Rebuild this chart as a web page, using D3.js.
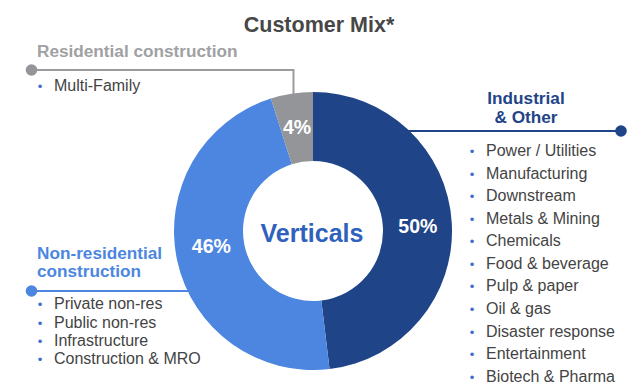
<!DOCTYPE html>
<html>
<head>
<meta charset="utf-8">
<script src="https://cdn.jsdelivr.net/npm/d3@7"></script>
<style>
  html, body { margin: 0; padding: 0; background: #fff; }
  svg { display: block; font-family: "Liberation Sans", Arial, Helvetica, sans-serif; }
</style>
</head>
<body>
<svg id="chart" width="640" height="392"></svg>
<script>
// ---- data ----
const segments = ["Industrial & Other", "Non-residential construction", "Residential construction"];
const segmentValues = [48.1, 47.0, 4.9];          // slice sizes as drawn
const segmentLabels = ["50%", "46%", "4%"];        // printed labels
const segmentColors = ["#1F4487", "#4C86E0", "#939598"];

const industrialItems = ["Power / Utilities", "Manufacturing", "Downstream", "Metals & Mining",
  "Chemicals", "Food & beverage", "Pulp & paper", "Oil & gas", "Disaster response",
  "Entertainment", "Biotech & Pharma"];
const nonResItems = ["Private non-res", "Public non-res", "Infrastructure", "Construction & MRO"];
const resItems = ["Multi-Family"];

// ---- layout ----
const svg = d3.select("#chart");
const cx = 313, cy = 231, R = 139, r = 70;
const textColor = "#444444";
const bulletColor = "#3D6FC9";

svg.append("text")
  .attr("x", 319).attr("y", 32)
  .attr("text-anchor", "middle")
  .attr("font-size", 21.5).attr("font-weight", "bold")
  .attr("fill", "#474747")
  .text("Customer Mix*");

// connector lines (under donut)
const conn = svg.append("g");
conn.append("path")
  .attr("d", `M31.5,70 H293.5 V100`)
  .attr("fill", "none").attr("stroke", "#9a9b9d").attr("stroke-width", 2);
conn.append("circle").attr("cx", 31.5).attr("cy", 70).attr("r", 5.8).attr("fill", "#939598");
conn.append("line").attr("x1", 380).attr("x2", 621).attr("y1", 131).attr("y2", 131)
  .attr("stroke", segmentColors[0]).attr("stroke-width", 2);
conn.append("circle").attr("cx", 621).attr("cy", 131).attr("r", 5.8).attr("fill", segmentColors[0]);
conn.append("line").attr("x1", 31.5).attr("x2", 200).attr("y1", 291).attr("y2", 291)
  .attr("stroke", segmentColors[1]).attr("stroke-width", 2);
conn.append("circle").attr("cx", 31.5).attr("cy", 291).attr("r", 5.8).attr("fill", segmentColors[1]);

// donut
const pie = d3.pie().sort(null).value(d => d)(segmentValues);
const arc = d3.arc().innerRadius(r).outerRadius(R);
const labelArc = d3.arc().innerRadius(104).outerRadius(104);
const labelNudge = [[1, 1], [0, -7], [0, -1]];
const g = svg.append("g").attr("transform", `translate(${cx},${cy})`);
g.selectAll("path.slice").data(pie).join("path")
  .attr("class", "slice")
  .attr("d", arc)
  .attr("fill", (d, i) => segmentColors[i]);
g.selectAll("text.pct").data(pie).join("text")
  .attr("class", "pct")
  .attr("transform", (d, i) => {
    const c = labelArc.centroid(d);
    return `translate(${c[0] + labelNudge[i][0]},${c[1] + labelNudge[i][1]})`;
  })
  .attr("text-anchor", "middle")
  .attr("dy", "0.36em")
  .attr("font-size", 19.5).attr("font-weight", "bold")
  .attr("fill", "#ffffff")
  .text((d, i) => segmentLabels[i]);

g.append("text")
  .attr("x", -1).attr("y", 11)
  .attr("text-anchor", "middle")
  .attr("font-size", 25).attr("font-weight", "bold")
  .attr("fill", "#2F62BC")
  .text("Verticals");

// headings
svg.append("text")
  .attr("x", 37).attr("y", 57)
  .attr("font-size", 17.2).attr("font-weight", "bold")
  .attr("fill", "#A0A1A3")
  .text("Residential construction");

const ind = svg.append("text")
  .attr("text-anchor", "middle")
  .attr("font-size", 17.2).attr("font-weight", "bold")
  .attr("fill", segmentColors[0]);
ind.append("tspan").attr("x", 526).attr("y", 104).text("Industrial");
ind.append("tspan").attr("x", 526).attr("y", 123).text("& Other");

const nr = svg.append("text")
  .attr("font-size", 17.2).attr("font-weight", "bold")
  .attr("fill", segmentColors[1]);
nr.append("tspan").attr("x", 37).attr("y", 259).text("Non-residential");
nr.append("tspan").attr("x", 37).attr("y", 277).text("construction");

// bullet lists
function bulletList(items, bx, tx, y0, step) {
  const grp = svg.append("g");
  items.forEach((t, i) => {
    const y = y0 + i * step;
    grp.append("text").attr("x", bx).attr("y", y).attr("text-anchor", "middle")
      .attr("font-size", 13).attr("fill", bulletColor).text("•");
    grp.append("text").attr("x", tx).attr("y", y)
      .attr("font-size", 16).attr("fill", textColor).text(t);
  });
}
bulletList(resItems, 40, 54, 91, 18.3);
bulletList(industrialItems, 472, 486, 156, 22.57);
bulletList(nonResItems, 40, 54, 309.3, 18.3);
</script>
</body>
</html>
